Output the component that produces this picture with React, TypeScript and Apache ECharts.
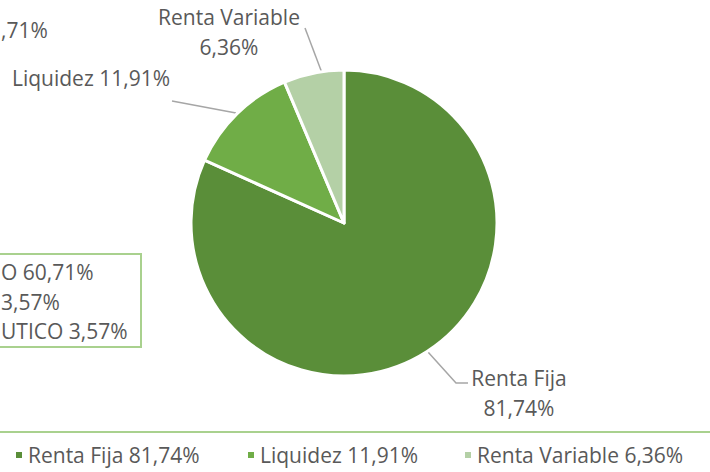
import React, { useEffect, useRef } from "react";
import * as echarts from "echarts";

const categories = ["Renta Fija", "Liquidez", "Renta Variable"];
const values = [81.74, 11.91, 6.36];
const colors = ["#5A8E39", "#70AD47", "#B4D0A6"];
const valueLabels = ["81,74%", "11,91%", "6,36%"];
const sideLegendLines = ["O 60,71%", "3,57%", "UTICO 3,57%"];
const cutLabel = ",71%";

const FONT = "Open Sans";
const TXT = "#595959";
const FS = 21;

export default function App() {
  const ref = useRef<HTMLDivElement>(null);
  useEffect(() => {
    if (!ref.current) return;
    const chart = echarts.init(ref.current, null, { renderer: "svg" });
    const data = categories.map((c, i) => ({
      name: c,
      value: values[i],
      itemStyle: { color: colors[i] },
    }));
    const labelPos = [
      { x: 519, y: 393, line: [[428, 352], [456, 383], [468, 383]] },
      { x: 91, y: 78, line: [[236, 113], [172, 101], [172, 101]] },
      { x: 229, y: 32, line: [[322, 73], [305, 28], [305, 28]] },
    ];
    const legendLefts = [14, 246, 463];
    chart.setOption({
      animation: false,
      legend: categories.map((c, i) => ({
        data: [c],
        left: legendLefts[i],
        top: 443,
        padding: 0,
        icon: "rect",
        itemWidth: 8,
        itemHeight: 8,
        itemGap: 0,
        selectedMode: false,
        formatter: (n: string) => n + " " + valueLabels[categories.indexOf(n)],
        textStyle: { color: TXT, fontFamily: FONT, fontSize: FS, lineHeight: 24 },
      })),
      graphic: [
        {
          type: "line",
          shape: { x1: 0, y1: 432, x2: 710, y2: 432 },
          style: { stroke: "#A9D18E", lineWidth: 2 },
        },
        {
          type: "rect",
          shape: { x: -10, y: 254, width: 151, height: 93 },
          style: { stroke: "#A9D18E", lineWidth: 2, fill: "none" },
        },
        {
          type: "text",
          x: 1,
          y: 30,
          style: { text: cutLabel, fill: TXT, font: `${FS}px "${FONT}"`, textAlign: "left", textVerticalAlign: "middle" },
        },
        ...sideLegendLines.map((t, i) => ({
          type: "text",
          x: 1,
          y: 272 + i * 29.5,
          style: { text: t, fill: TXT, font: `${FS}px "${FONT}"`, textAlign: "left", textVerticalAlign: "middle" },
        })),
      ],
      series: [
        {
          type: "pie",
          center: [344, 223],
          radius: 153,
          startAngle: 90,
          clockwise: true,
          data,
          itemStyle: { borderColor: "#ffffff", borderWidth: 3 },
          label: {
            show: true,
            position: "outside",
            color: TXT,
            fontFamily: FONT,
            fontSize: FS,
            lineHeight: 30,
            align: "center",
            formatter: (p: any) =>
              p.dataIndex === 1
                ? p.name + " " + valueLabels[p.dataIndex]
                : p.name + "\n" + valueLabels[p.dataIndex],
          },
          labelLine: { show: true, lineStyle: { color: "#A6A6A6", width: 1.5 } },
          labelLayout: (params: any) => {
            const lp = labelPos[params.dataIndex];
            return {
              x: lp.x,
              y: lp.y,
              align: "center",
              verticalAlign: "middle",
              labelLinePoints: lp.line,
            };
          },
        },
      ],
    });
    return () => chart.dispose();
  }, []);
  return <div ref={ref} style={{ width: 710, height: 472, position: "absolute", left: 0, top: 0 }} />;
}
